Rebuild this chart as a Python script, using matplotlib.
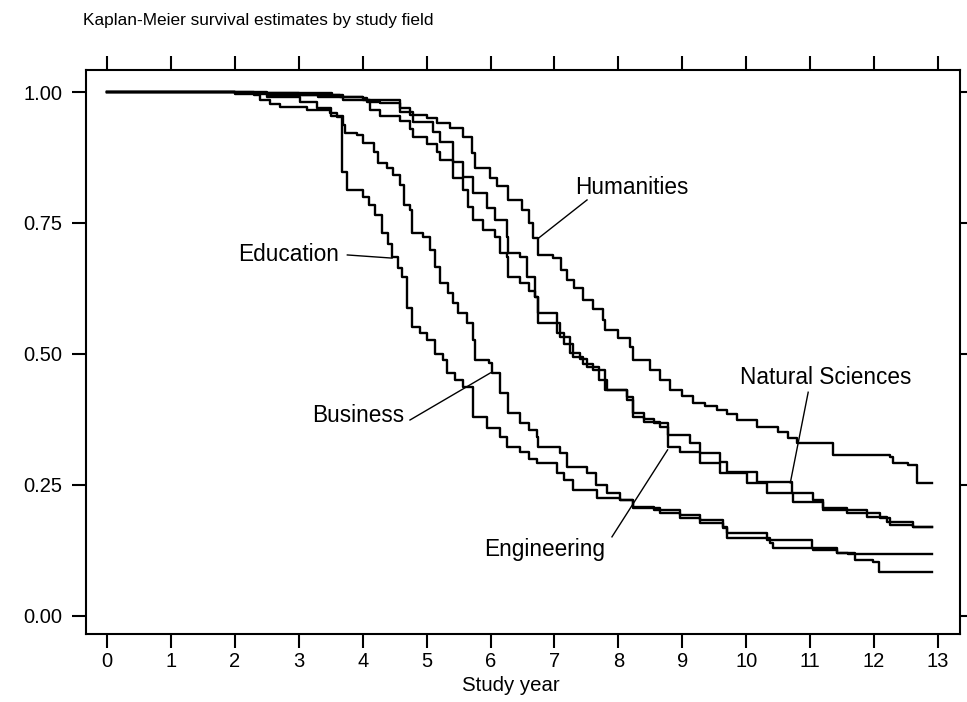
import matplotlib.pyplot as plt

plt.rcParams['font.family'] = ['Liberation Sans', 'DejaVu Sans']

# Kaplan-Meier step data: (study year, survival)
hum_t = [0, 2.0, 3.52, 3.65, 4.0, 4.07, 4.27, 4.59, 4.74, 5.0, 5.16, 5.37, 5.57, 5.71, 5.76,
         5.99, 6.1, 6.28, 6.49, 6.6, 6.67, 6.75, 6.98, 7.1, 7.2, 7.3, 7.45, 7.6, 7.76, 7.79,
         8.0, 8.18, 8.23, 8.5, 8.65, 8.81, 9.0, 9.17, 9.35, 9.55, 9.7, 9.86, 10.17, 10.49,
         10.65, 10.8, 11.36, 12.25, 12.3, 12.53, 12.67, 12.91]
hum_s = [1.0, 0.998, 0.995, 0.99, 0.988, 0.981, 0.979, 0.969, 0.956, 0.95, 0.941, 0.931, 0.914,
         0.884, 0.855, 0.836, 0.82, 0.794, 0.775, 0.75, 0.721, 0.689, 0.683, 0.66, 0.641, 0.625,
         0.603, 0.585, 0.565, 0.546, 0.53, 0.513, 0.489, 0.469, 0.45, 0.431, 0.42, 0.406, 0.40,
         0.393, 0.385, 0.374, 0.361, 0.351, 0.34, 0.330, 0.307, 0.303, 0.292, 0.288, 0.254, 0.254]

nat_t = [0, 2.0, 3.0, 3.69, 4.12, 4.27, 4.59, 4.74, 4.79, 5.0, 5.16, 5.21, 5.42, 5.57, 5.65,
         5.73, 5.88, 6.07, 6.15, 6.26, 6.28, 6.46, 6.6, 6.7, 6.75, 7.09, 7.25, 7.4, 7.51, 7.7,
         7.82, 8.14, 8.23, 8.4, 8.65, 8.77, 9.12, 9.28, 9.59, 9.7, 10.17, 10.72, 11.05, 11.2,
         11.89, 12.1, 12.25, 12.61, 12.91]
nat_s = [1.0, 0.998, 0.995, 0.985, 0.965, 0.955, 0.945, 0.93, 0.915, 0.9, 0.885, 0.87, 0.836,
         0.813, 0.781, 0.756, 0.737, 0.723, 0.692, 0.685, 0.647, 0.635, 0.62, 0.609, 0.559,
         0.532, 0.502, 0.49, 0.475, 0.45, 0.431, 0.412, 0.380, 0.37, 0.361, 0.345, 0.330,
         0.311, 0.294, 0.275, 0.256, 0.235, 0.221, 0.202, 0.196, 0.187, 0.174, 0.170, 0.170]

eng_t = [0, 2.5, 3.3, 4.0, 4.59, 4.79, 5.1, 5.21, 5.42, 5.57, 5.73, 5.95, 6.07, 6.26, 6.28,
         6.46, 6.57, 6.7, 6.75, 7.04, 7.15, 7.29, 7.45, 7.6, 7.79, 8.14, 8.23, 8.4, 8.55, 8.77,
         8.97, 9.28, 9.59, 10.02, 10.33, 10.74, 11.2, 11.58, 11.89, 12.2, 12.61, 12.91]
eng_s = [1.0, 0.995, 0.99, 0.985, 0.962, 0.943, 0.924, 0.905, 0.866, 0.838, 0.807, 0.779, 0.756,
         0.723, 0.692, 0.685, 0.647, 0.609, 0.578, 0.540, 0.52, 0.494, 0.48, 0.469, 0.431, 0.418,
         0.387, 0.375, 0.368, 0.322, 0.313, 0.292, 0.273, 0.254, 0.235, 0.218, 0.206, 0.196,
         0.189, 0.179, 0.170, 0.170]

edu_t = [0, 2.3, 2.4, 2.55, 2.7, 3.13, 3.49, 3.6, 3.67, 3.75, 4.01, 4.1, 4.19, 4.3, 4.4, 4.46,
         4.55, 4.61, 4.69, 4.77, 4.9, 5.0, 5.13, 5.26, 5.32, 5.45, 5.57, 5.73, 5.95, 6.15, 6.26,
         6.46, 6.6, 6.73, 7.04, 7.15, 7.29, 7.67, 8.03, 8.23, 8.65, 8.97, 9.28, 9.64, 9.7, 10.38,
         10.42, 11.05, 11.42, 11.7, 11.99, 12.07, 12.91]
edu_s = [1.0, 0.995, 0.985, 0.978, 0.971, 0.966, 0.96, 0.952, 0.847, 0.813, 0.80, 0.785, 0.765,
         0.73, 0.71, 0.685, 0.665, 0.647, 0.588, 0.552, 0.54, 0.527, 0.50, 0.489, 0.464, 0.45,
         0.437, 0.38, 0.359, 0.342, 0.322, 0.313, 0.30, 0.292, 0.273, 0.26, 0.240, 0.225, 0.221,
         0.206, 0.196, 0.187, 0.177, 0.17, 0.149, 0.139, 0.13, 0.126, 0.12, 0.107, 0.103, 0.084,
         0.084]

bus_t = [0, 2.0, 2.5, 3.02, 3.29, 3.5, 3.7, 3.72, 3.91, 4.01, 4.17, 4.24, 4.38, 4.48, 4.59,
         4.64, 4.74, 4.77, 4.95, 5.05, 5.13, 5.21, 5.34, 5.42, 5.49, 5.63, 5.73, 5.76, 5.97, 6.02,
         6.15, 6.28, 6.46, 6.6, 6.73, 6.75, 7.09, 7.2, 7.51, 7.65, 7.82, 8.03, 8.23, 8.55, 8.97,
         9.28, 9.64, 9.7, 10.33, 11.03, 11.42, 11.6, 12.91]
bus_s = [1.0, 0.997, 0.99, 0.981, 0.969, 0.955, 0.937, 0.922, 0.918, 0.903, 0.886, 0.864, 0.855,
         0.842, 0.823, 0.784, 0.775, 0.731, 0.723, 0.698, 0.666, 0.635, 0.616, 0.597, 0.578, 0.559,
         0.527, 0.489, 0.483, 0.464, 0.425, 0.387, 0.368, 0.355, 0.342, 0.322, 0.311, 0.284, 0.273,
         0.25, 0.235, 0.221, 0.208, 0.202, 0.193, 0.183, 0.168, 0.158, 0.145, 0.13, 0.12, 0.118,
         0.118]

series = [(hum_t, hum_s), (nat_t, nat_s), (eng_t, eng_s), (edu_t, edu_s), (bus_t, bus_s)]

# label text, text anchor (left, centre), connector start, connector end
labels = [
    ('Humanities', (7.32, 0.817), (7.51, 0.794), (6.75, 0.721)),
    ('Education', (2.05, 0.689), (3.76, 0.689), (4.46, 0.683)),
    ('Business', (3.21, 0.382), (4.74, 0.374), (6.0, 0.464)),
    ('Engineering', (5.9, 0.126), (7.9, 0.151), (8.77, 0.317)),
    ('Natural Sciences', (9.9, 0.456), (10.97, 0.427), (10.69, 0.254)),
]

fig = plt.figure(figsize=(9.67, 7.02), dpi=100)
ax = fig.add_axes([86 / 967, 1 - 634 / 702, (960 - 86) / 967, (634 - 70) / 702])

for t, s in series:
    ax.step(t, s, where='post', color='black', lw=1.7)

for text, (tx, ty), (x0, y0), (x1, y1) in labels:
    ax.text(tx, ty, text, ha='left', va='center', fontsize=16.3)
    ax.plot([x0, x1], [y0, y1], color='black', lw=1.0)

ax.set_xlim(-0.3285, 13.345)
ax.set_ylim(-0.0344, 1.042)
ax.set_xticks(range(0, 14))
ax.set_yticks([0, 0.25, 0.5, 0.75, 1.0])
ax.set_yticklabels(['0.00', '0.25', '0.50', '0.75', '1.00'])
ax.tick_params(direction='out', length=10, width=1.5, labelsize=14.5,
               top=True, right=True, labeltop=False, labelright=False)
ax.tick_params(axis='y', pad=7)
ax.tick_params(axis='x', pad=3)
for sp in ax.spines.values():
    sp.set_linewidth(1.5)
ax.set_xlabel('Study year', fontsize=14.7, labelpad=4)
ax.xaxis.set_label_coords(0.486, -0.075)

fig.text(83 / 967, 1 - 20 / 702, 'Kaplan-Meier survival estimates by study field',
         ha='left', va='center', fontsize=12.4)

fig.savefig('out.png', dpi=100)
